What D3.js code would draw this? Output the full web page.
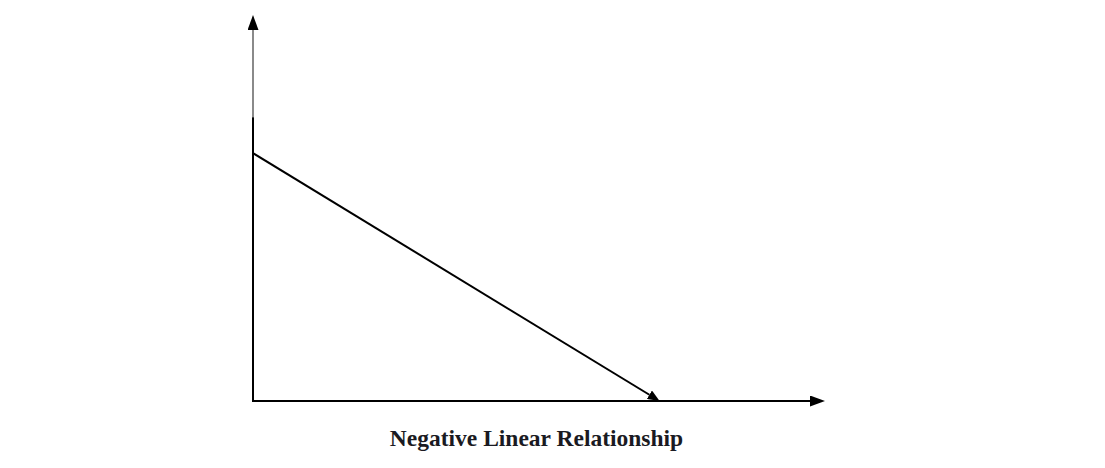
<!DOCTYPE html>
<html>
<head>
<meta charset="utf-8">
<script src="https://cdn.jsdelivr.net/npm/d3@7"></script>
<style>
  html, body { margin: 0; padding: 0; background: #fff; }
  svg { display: block; }
</style>
</head>
<body>
<svg id="chart" width="1105" height="468"></svg>
<script>
// Data
const lineX = [0, 7.3];
const lineY = [6.68, 0];
const titleText = "Negative Linear Relationship";

const svg = d3.select("#chart");
const x = d3.scaleLinear().domain([0, 10]).range([253, 810]);
const y = d3.scaleLinear().domain([0, 10]).range([401, 30]);

const defs = svg.append("defs");
function marker(id, w, h) {
  defs.append("marker")
    .attr("id", id)
    .attr("viewBox", `0 0 ${w} ${h}`)
    .attr("refX", 0).attr("refY", h / 2)
    .attr("markerWidth", w).attr("markerHeight", h)
    .attr("markerUnits", "userSpaceOnUse")
    .attr("orient", "auto")
    .append("path")
    .attr("d", `M0,0 L${w},${h / 2} L0,${h} Z`)
    .attr("fill", "#000");
}
marker("arrowAxis", 15, 11);
marker("arrowLine", 12, 10);

// y axis: gray upper part then black
svg.append("line")
  .attr("x1", x(0)).attr("x2", x(0))
  .attr("y1", y(7.65)).attr("y2", y(10))
  .attr("stroke", "#8a8a8a").attr("stroke-width", 2)
  .attr("marker-end", "url(#arrowAxis)");
svg.append("line")
  .attr("x1", x(0)).attr("x2", x(0))
  .attr("y1", y(0) + 1).attr("y2", y(7.65))
  .attr("stroke", "#000").attr("stroke-width", 2);

// x axis
svg.append("line")
  .attr("x1", x(0) - 1).attr("x2", x(10))
  .attr("y1", y(0)).attr("y2", y(0))
  .attr("stroke", "#000").attr("stroke-width", 2)
  .attr("marker-end", "url(#arrowAxis)");

// data line
const pts = lineX.map((v, i) => [v, lineY[i]]);
const [p0, p1] = pts.map(d => [x(d[0]), y(d[1])]);
const dx = p1[0] - p0[0], dy = p1[1] - p0[1];
const len = Math.hypot(dx, dy);
const endX = p1[0] - dx / len * 12, endY = p1[1] - dy / len * 12;
svg.append("path")
  .attr("d", `M${p0[0]},${p0[1]} L${endX},${endY}`)
  .attr("stroke", "#000").attr("stroke-width", 2).attr("fill", "none")
  .attr("marker-end", "url(#arrowLine)");

// title
svg.append("text")
  .attr("x", 536.5).attr("y", 446)
  .attr("text-anchor", "middle")
  .attr("font-family", "'Liberation Serif', 'Times New Roman', serif")
  .attr("font-weight", "bold")
  .attr("font-size", 23.5)
  .attr("fill", "#1a1a22")
  .text(titleText);
</script>
</body>
</html>
